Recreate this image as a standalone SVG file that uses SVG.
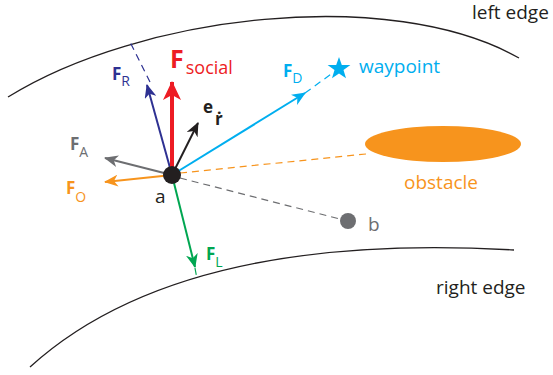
<svg xmlns="http://www.w3.org/2000/svg" width="553" height="375" viewBox="0 0 553 375">
<style>
text{font-family:"Open Sans","Noto Sans",sans-serif}
.edge{fill:none;stroke:#231f20;stroke-width:1.3}
.lbl{font-size:19px;fill:#231f20}
.F{font-weight:bold;font-size:17px}
.sub{font-size:14px}
.vec{fill:none;stroke-width:2}
.dash{fill:none;stroke-width:1.2;stroke-dasharray:7 5}
</style>
<defs>
<marker id="hBlue" markerUnits="userSpaceOnUse" markerWidth="16" markerHeight="12" refX="13" refY="6" orient="auto"><path d="M0,0 L14,6 L0,12 L4,6 z" fill="#2e3192"/></marker>
<marker id="hRed" markerUnits="userSpaceOnUse" markerWidth="20" markerHeight="18" refX="18" refY="9" orient="auto"><path d="M0,0 L19,9 L0,18 L5,9 z" fill="#ed1c24"/></marker>
<marker id="hBlack" markerUnits="userSpaceOnUse" markerWidth="16" markerHeight="12" refX="13" refY="6" orient="auto"><path d="M0,0 L14,6 L0,12 L4,6 z" fill="#231f20"/></marker>
<marker id="hGrey" markerUnits="userSpaceOnUse" markerWidth="16" markerHeight="12" refX="13" refY="6" orient="auto"><path d="M0,0 L14,6 L0,12 L4,6 z" fill="#6d6e71"/></marker>
<marker id="hOrange" markerUnits="userSpaceOnUse" markerWidth="16" markerHeight="12" refX="13" refY="6" orient="auto"><path d="M0,0 L14,6 L0,12 L4,6 z" fill="#f7941d"/></marker>
<marker id="hGreen" markerUnits="userSpaceOnUse" markerWidth="16" markerHeight="12" refX="13" refY="6" orient="auto"><path d="M0,0 L14,6 L0,12 L4,6 z" fill="#00a651"/></marker>
<marker id="hCyan" markerUnits="userSpaceOnUse" markerWidth="16" markerHeight="12" refX="13" refY="6" orient="auto"><path d="M0,0 L14,6 L0,12 L4,6 z" fill="#00aeef"/></marker>
</defs>

<g id="edges">
<path class="edge" d="M8,97 C140,15 390,-15 519,58"/>
<path class="edge" d="M30,367 C150,258 340,240 514,250"/>
<text class="lbl" x="472" y="19">left edge</text>
<text class="lbl" x="436" y="294">right edge</text>
</g>

<g id="connectors">
<line class="dash" x1="150" y1="82" x2="130" y2="42" stroke="#2e3192"/>
<line class="dash" x1="305" y1="93" x2="334" y2="72" stroke="#00aeef"/>
<line class="dash" x1="180" y1="173" x2="366" y2="154" stroke="#f7941d"/>
<line class="dash" x1="180" y1="178" x2="340" y2="219" stroke="#6d6e71"/>
<line class="dash" x1="195" y1="268" x2="197" y2="279" stroke="#00a651"/>
<line class="vec" x1="172" y1="175" x2="147" y2="85" stroke="#2e3192" marker-end="url(#hBlue)"/>
<line x1="172" y1="175" x2="172" y2="82" stroke="#ed1c24" stroke-width="4" marker-end="url(#hRed)"/>
<line class="vec" x1="172" y1="175" x2="198" y2="123" stroke="#231f20" marker-end="url(#hBlack)"/>
<line class="vec" x1="172" y1="175" x2="105" y2="158" stroke="#6d6e71" marker-end="url(#hGrey)"/>
<line class="vec" x1="172" y1="175" x2="105" y2="182" stroke="#f7941d" marker-end="url(#hOrange)"/>
<line class="vec" x1="172" y1="175" x2="195" y2="267" stroke="#00a651" marker-end="url(#hGreen)"/>
<line class="vec" x1="172" y1="175" x2="305" y2="93" stroke="#00aeef" marker-end="url(#hCyan)"/>
</g>

<g id="node-a">
<circle cx="172" cy="175" r="9" fill="#231f20"/>
<text class="lbl" x="155" y="203">a</text>
</g>

<g id="node-b">
<circle cx="348" cy="221" r="8" fill="#6d6e71"/>
<text class="lbl" x="368" y="231" style="fill:#6d6e71">b</text>
</g>

<g id="obstacle">
<ellipse cx="443" cy="144" rx="78" ry="18" fill="#f7941d"/>
<text x="404" y="189" font-size="19" fill="#f7941d">obstacle</text>
</g>

<g id="waypoint">
<polygon fill="#00aeef" points="339,57 341.8,64.9 350.4,64.9 343.5,70.1 346,78.3 339,73.4 332,78.3 334.5,70.1 327.6,64.9 336.2,64.9"/>
<text x="359" y="73" font-size="19" fill="#00aeef">waypoint</text>
</g>

<g id="label-FR" fill="#2e3192"><text x="112" y="80"><tspan class="F">F</tspan><tspan class="sub" dy="6">R</tspan></text></g>
<g id="label-Fsocial" fill="#ed1c24"><text x="170" y="68"><tspan font-weight="bold" font-size="25">F</tspan><tspan font-size="18" dx="2" dy="6">social</tspan></text></g>
<g id="label-er" fill="#231f20"><text x="203" y="113" font-weight="bold" font-size="17">e</text><text x="215" y="125" font-weight="bold" font-size="17">ṙ</text></g>
<g id="label-FA" fill="#6d6e71"><text x="70" y="150"><tspan class="F">F</tspan><tspan class="sub" dy="7">A</tspan></text></g>
<g id="label-FO" fill="#f7941d"><text x="66" y="194"><tspan class="F">F</tspan><tspan class="sub" dy="8">O</tspan></text></g>
<g id="label-FL" fill="#00a651"><text x="206" y="260"><tspan class="F">F</tspan><tspan class="sub" dy="7">L</tspan></text></g>
<g id="label-FD" fill="#00aeef"><text x="283" y="77"><tspan class="F">F</tspan><tspan class="sub" dy="6">D</tspan></text></g>
</svg>
